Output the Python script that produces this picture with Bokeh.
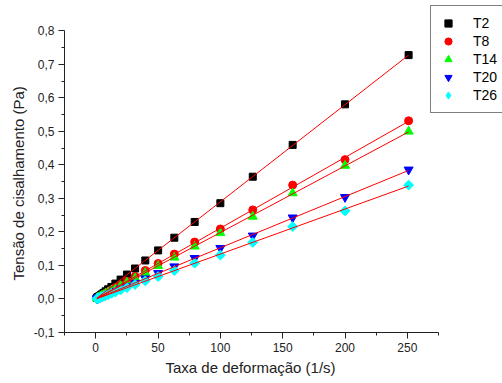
import numpy as np
from bokeh.plotting import figure
from bokeh.models import (Range1d, FixedTicker, CustomJSTickFormatter, Legend, LegendItem, Title)
from bokeh.embed import file_html
from bokeh.resources import INLINE

# shear rate (1/s)
rate = [1.0, 1.26, 1.58, 2.0, 2.51, 3.16, 3.98, 5.01, 6.31, 7.94, 10.0, 12.6, 15.8,
        20.0, 25.1, 31.6, 39.8, 50.1, 63.1, 79.4, 100.0, 126.0, 158.0, 200.0, 251.0]
# shear stress (Pa)
T2 = [0.003, 0.004, 0.005, 0.006, 0.007, 0.009, 0.011, 0.014, 0.018, 0.023, 0.029, 0.036, 0.046,
      0.058, 0.073, 0.091, 0.115, 0.145, 0.183, 0.230, 0.286, 0.365, 0.460, 0.581, 0.728]
T8 = [0.002, 0.003, 0.003, 0.004, 0.005, 0.007, 0.008, 0.011, 0.013, 0.017, 0.021, 0.027, 0.034,
      0.042, 0.053, 0.067, 0.085, 0.106, 0.134, 0.170, 0.209, 0.266, 0.340, 0.416, 0.532]
T14 = [0.002, 0.002, 0.003, 0.004, 0.005, 0.006, 0.008, 0.010, 0.012, 0.016, 0.020, 0.025, 0.031,
       0.039, 0.049, 0.062, 0.078, 0.099, 0.124, 0.157, 0.197, 0.246, 0.316, 0.398, 0.500]
T20 = [0.001, 0.002, 0.002, 0.003, 0.004, 0.005, 0.006, 0.008, 0.010, 0.012, 0.015, 0.019, 0.024,
       0.031, 0.038, 0.048, 0.061, 0.077, 0.097, 0.122, 0.152, 0.189, 0.243, 0.304, 0.386]
T26 = [0.001, 0.001, 0.002, 0.002, 0.003, 0.004, 0.005, 0.007, 0.008, 0.011, 0.013, 0.017, 0.021,
       0.027, 0.034, 0.043, 0.054, 0.067, 0.085, 0.107, 0.131, 0.169, 0.216, 0.263, 0.340]

series_names = ["T2", "T8", "T14", "T20", "T26"]
series_values = [T2, T8, T14, T20, T26]
markers = ["square", "circle", "triangle", "inverted_triangle", "square"]
legend_markers = ["square", "circle", "triangle", "inverted_triangle", "diamond"]
angles = [0, 0, 0, 0, np.pi / 4]
colors = ["#000000", "#FF0000", "#00FF00", "#0000FF", "#00FFFF"]
sizes = [7, 8, 9, 9, 7]

x_ticks = [0, 50, 100, 150, 200, 250]
y_ticks = [-0.1, 0.0, 0.1, 0.2, 0.3, 0.4, 0.5, 0.6, 0.7, 0.8]
x_title = "Taxa de deformação (1/s)"
y_title = "Tensão de cisalhamento (Pa)"

FONT = "Liberation Sans"
INK = "#222222"

p = figure(width=502, height=383, output_backend="svg", toolbar_location=None,
           x_range=Range1d(-25, 326.3), y_range=Range1d(-0.1, 0.891),
           min_border_left=64, min_border_right=0, min_border_top=0, min_border_bottom=51)
p.outline_line_color = None
p.xgrid.visible = False
p.ygrid.visible = False
p.background_fill_color = "white"
p.border_fill_color = "white"

items = []
for name, vals, mk, lmk, ang, col, sz in zip(series_names, series_values, markers, legend_markers,
                                             angles, colors, sizes):
    r = p.scatter(rate, vals, marker=mk, size=sz, angle=ang, fill_color=col, line_color=col)
    if lmk == mk:
        items.append(LegendItem(label=name, renderers=[r]))
    else:
        # legend-only proxy (the legend never rotates markers)
        proxy = p.scatter([np.nan], [np.nan], marker=lmk, size=sz, fill_color=col, line_color=col)
        items.append(LegendItem(label=name, renderers=[proxy]))

for vals in series_values:
    k, b = np.polyfit(rate, vals, 1)
    xs = np.array([min(rate), max(rate)])
    p.line(xs, k * xs + b, line_color="#FF0000", line_width=1)

# axes
fmt = CustomJSTickFormatter(code="""
var s = tick.toFixed(1);
if (s === '-0.0') s = '0.0';
return s.replace('.', ',');
""")
xa = p.xaxis[0]
ya = p.yaxis[0]
xa.ticker = FixedTicker(ticks=x_ticks, minor_ticks=[-25, 25, 75, 125, 175, 225, 275])
ya.ticker = FixedTicker(ticks=y_ticks, minor_ticks=[-0.05, 0.05, 0.15, 0.25, 0.35, 0.45, 0.55, 0.65, 0.75])
ya.formatter = fmt
xa.bounds = (-25, 275)
ya.bounds = (-0.1, 0.8)
for ax in (xa, ya):
    ax.axis_line_color = INK
    ax.axis_line_width = 1
    ax.major_tick_line_color = INK
    ax.minor_tick_line_color = INK
    ax.major_tick_out = 6
    ax.major_tick_in = 0
    ax.minor_tick_out = 3
    ax.minor_tick_in = 0
    ax.major_label_text_font = FONT
    ax.major_label_text_font_size = "12px"
    ax.major_label_text_color = INK
xa.major_label_standoff = 4
ya.major_label_standoff = 4

# axis titles as Titles so they can be centred on the drawn axis span
tx = Title(text=x_title, align="left", offset=101, standoff=4,
           text_font=FONT, text_font_size="15px", text_font_style="normal", text_color=INK)
p.add_layout(tx, "below")
ty = Title(text=y_title, align="left", offset=52, standoff=7,
           text_font=FONT, text_font_size="15px", text_font_style="normal", text_color=INK)
p.add_layout(ty, "left")

legend = Legend(items=items, location=(366, 219))
legend.border_line_color = "#000000"
legend.border_line_width = 1
legend.background_fill_color = "white"
legend.background_fill_alpha = 1
legend.padding = 8
legend.spacing = 0
legend.margin = 0
legend.glyph_width = 18
legend.glyph_height = 18
legend.label_height = 18
legend.label_width = 60
legend.label_standoff = 16
legend.label_text_font = FONT
legend.label_text_font_size = "14px"
legend.label_text_color = "#000000"
p.add_layout(legend, "center")

open("out.html", "w").write(file_html(p, INLINE))
